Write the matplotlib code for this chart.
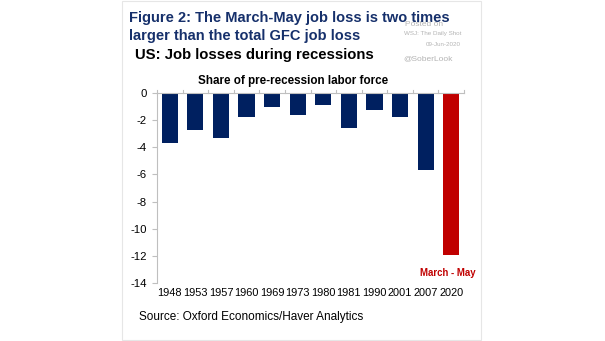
import matplotlib.pyplot as plt
from matplotlib.patches import Rectangle

plt.rcParams['font.family'] = ['Liberation Sans', 'DejaVu Sans']

# データ
years = ["1948", "1953", "1957", "1960", "1969", "1973", "1980", "1981",
         "1990", "2001", "2007", "2020"]
losses = [-3.7, -2.7, -3.3, -1.8, -1.0, -1.6, -0.9, -2.6, -1.25, -1.8, -5.65, -11.9]
bar_colors = ["#002060"] * 11 + ["#C00000"]
yticks = [0, -2, -4, -6, -8, -10, -12, -14]

fig = plt.figure(figsize=(6.05, 3.41), dpi=100)

# 外枠
fig.patches.append(Rectangle((122 / 605, 0.004), 359 / 605, 0.993, transform=fig.transFigure,
                             fill=False, edgecolor="#E6E6E6", linewidth=0.8))

ax = fig.add_axes([157 / 605, 1 - 283 / 341, 307 / 605, 190 / 341])
x = range(len(years))
ax.bar(x, losses, width=0.63, color=bar_colors, zorder=2)
ax.set_xlim(-0.5, len(years) - 0.5)
ax.set_ylim(-14, 0)
ax.set_yticks(yticks)
ax.set_yticklabels([str(v) for v in yticks], fontsize=8.2)
ax.tick_params(axis="y", length=3.5, color="#BFBFBF", pad=4)

# x軸ラベルは下側、0のラインは上側
ax.set_xticks([])
for i, yr in enumerate(years):
    ax.text(i, -14.35, yr, ha="center", va="top", fontsize=7.9)
for s in ["right", "bottom"]:
    ax.spines[s].set_visible(False)
ax.spines["left"].set_color("#BFBFBF")
ax.spines["top"].set_color("#BFBFBF")
for b in [i + 0.5 for i in range(-1, len(years))]:
    ax.plot([b, b], [0, 0.2], color="#BFBFBF", lw=0.8, clip_on=False)

ax.text(10.86, -13.3, "March - May", ha="center", va="center", color="#C00000",
        fontsize=6.9, fontweight="bold")

# タイトル
navy = "#16306B"
fig.text(129 / 605, 1 - 18 / 341, "Figure 2: The March-May job loss is two times",
         color=navy, fontsize=10.5, fontweight="bold", va="center")
fig.text(129 / 605, 1 - 36 / 341, "larger than the total GFC job loss",
         color=navy, fontsize=10.5, fontweight="bold", va="center")
fig.text(135 / 605, 1 - 55 / 341, "US: Job losses during recessions",
         color="black", fontsize=10.7, fontweight="bold", va="center")
fig.text(293.5 / 605, 1 - 81 / 341, "Share of pre-recession labor force",
         color="black", fontsize=8.4, fontweight="bold", va="center", ha="center")
fig.text(139 / 605, 1 - 317 / 341, "Source: Oxford Economics/Haver Analytics",
         color="black", fontsize=8.5, va="center")

# ウォーターマーク
wm = "#B4B4B4"
fig.text(405 / 605, 1 - 24 / 341, "Posted on", color=wm, fontsize=6, va="center")
fig.text(461 / 605, 1 - 34 / 341, "WSJ: The Daily Shot", color=wm, fontsize=4.5,
         va="center", ha="right")
fig.text(461 / 605, 1 - 44 / 341, "09-Jun-2020", color=wm, fontsize=4.5,
         va="center", ha="right")
fig.text(403 / 605, 1 - 59 / 341, "@SoberLook", color=wm, fontsize=6, va="center")

fig.savefig("out.png", dpi=100)
